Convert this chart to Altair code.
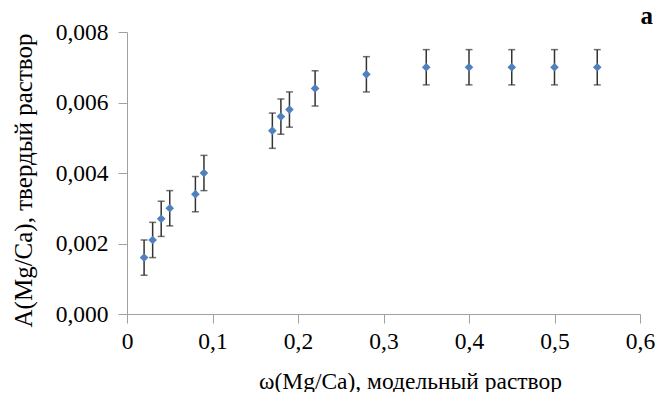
import altair as alt
import pandas as pd

x_vals = [0.02, 0.03, 0.04, 0.05, 0.08, 0.09, 0.17, 0.18, 0.19, 0.22, 0.28, 0.35, 0.40, 0.45, 0.50, 0.55]
y_vals = [0.0016, 0.0021, 0.0027, 0.0030, 0.0034, 0.0040, 0.0052, 0.0056, 0.0058, 0.0064, 0.0068,
          0.0070, 0.0070, 0.0070, 0.0070, 0.0070]
err_vals = [0.0005] * 16
x_ticks = [0, 0.1, 0.2, 0.3, 0.4, 0.5, 0.6]
y_ticks = [0, 0.002, 0.004, 0.006, 0.008]

df = pd.DataFrame({"x": x_vals, "y": y_vals, "err": err_vals})
df["lo"] = df["y"] - df["err"]
df["hi"] = df["y"] + df["err"]

FONT = "Liberation Serif"

xs = alt.Scale(domain=[0, 0.6], nice=False)
ys = alt.Scale(domain=[0, 0.008], nice=False)

x_axis = alt.Axis(
    values=x_ticks,
    title="ω(Mg/Ca), модельный раствор",
    labelExpr="datum.value == 0 ? '0' : replace(format(datum.value, '.1f'), '.', ',')",
    grid=False,
    labelFlush=False,
    labelFont=FONT,
    labelFontSize=23.5,
    labelPadding=6,
    titleFont=FONT,
    titleFontSize=23.5,
    titleX=283,
    titleY=74,
    titleAlign="center",
    titleBaseline="alphabetic",
)
y_axis = alt.Axis(
    values=y_ticks,
    title="A(Mg/Ca), твердый раствор",
    labelExpr="replace(format(datum.value, '.3f'), '.', ',')",
    grid=False,
    labelFlush=False,
    labelFont=FONT,
    labelFontSize=23.5,
    labelPadding=10,
    titleFont=FONT,
    titleFontSize=25,
    titleX=-96,
    titleY=148,
    titleAngle=270,
    titleAlign="center",
    titleBaseline="alphabetic",
)

base = alt.Chart(df)

rules = base.mark_rule(color="#333333", strokeWidth=1.5).encode(
    x=alt.X("x:Q", scale=xs, axis=x_axis),
    y=alt.Y("lo:Q", scale=ys, axis=y_axis),
    y2="hi:Q",
)
caps_lo = base.mark_tick(color="#333333", orient="horizontal", size=7, thickness=1.5).encode(
    x=alt.X("x:Q", scale=xs, axis=x_axis), y=alt.Y("lo:Q", scale=ys, axis=y_axis)
)
caps_hi = base.mark_tick(color="#333333", orient="horizontal", size=7, thickness=1.5).encode(
    x=alt.X("x:Q", scale=xs, axis=x_axis), y=alt.Y("hi:Q", scale=ys, axis=y_axis)
)
points = base.mark_point(shape="diamond", filled=True, size=75, color="#4F81BD", opacity=1).encode(
    x=alt.X("x:Q", scale=xs, axis=x_axis), y=alt.Y("y:Q", scale=ys, axis=y_axis)
)
label = alt.Chart(pd.DataFrame({"t": ["a"]})).mark_text(
    font=FONT, fontSize=25, fontWeight="bold", color="black", align="right", baseline="alphabetic"
).encode(text="t:N", x=alt.value(526), y=alt.value(-8))

chart = alt.layer(rules, caps_lo, caps_hi, points, label).properties(
    width=513,
    height=282,
    autosize=alt.AutoSizeParams(type="none"),
    padding={"left": 119, "top": 24, "right": 16, "bottom": 78},
).configure(font=FONT).configure_view(stroke=None).configure_axis(
    domainColor="#A0A0A0",
    tickColor="#A0A0A0",
    domainWidth=1,
    tickWidth=1,
    tickSize=9,
    labelFont=FONT,
    labelFontSize=23.5,
    labelColor="black",
    titleFont=FONT,
    titleFontWeight="normal",
    titleColor="black",
)

chart.save("out.html", embed_options={"renderer": "svg", "actions": False})
